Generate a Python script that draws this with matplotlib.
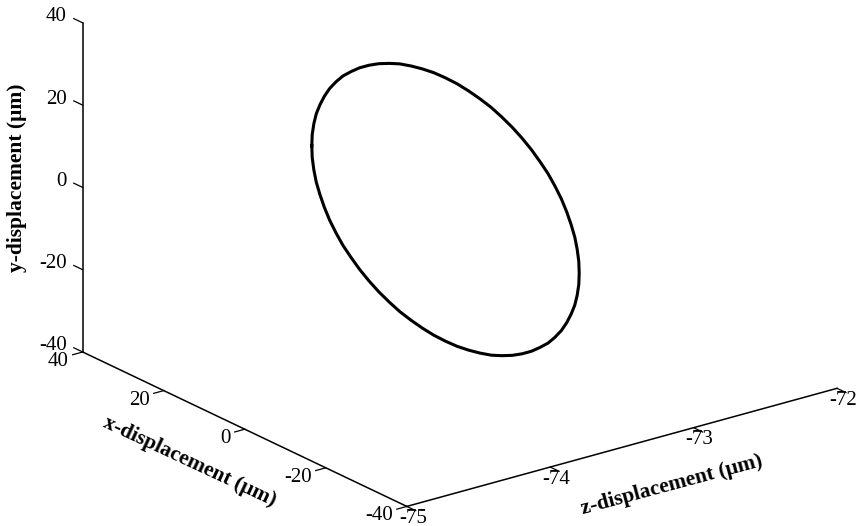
import matplotlib
matplotlib.use("Agg")
import matplotlib.pyplot as plt
from mpl_toolkits.mplot3d import proj3d
import numpy as np

plt.rcParams["font.family"] = ["Liberation Serif", "DejaVu Serif"]

# circular trace (um), lies in the x-y plane
x_um = [33.0, 32.9, 32.5, 31.9, 31.0, 29.9, 28.6, 27.0, 25.3, 23.3, 21.2, 18.9, 16.5,
        13.9, 11.3, 8.5, 5.7, 2.9, 0.0,
        -2.9, -5.7, -8.5, -11.3, -13.9, -16.5, -18.9, -21.2, -23.3, -25.3, -27.0, -28.6,
        -29.9, -31.0, -31.9, -32.5, -32.9, -33.0,
        -32.9, -32.5, -31.9, -31.0, -29.9, -28.6, -27.0, -25.3, -23.3, -21.2, -18.9, -16.5,
        -13.9, -11.3, -8.5, -5.7, -2.9, 0.0,
        2.9, 5.7, 8.5, 11.3, 13.9, 16.5, 18.9, 21.2, 23.3, 25.3, 27.0, 28.6,
        29.9, 31.0, 31.9, 32.5, 32.9, 33.0]
y_um = [0.0, 2.8, 5.6, 8.3, 10.9, 13.5, 16.0, 18.4, 20.6, 22.6, 24.5, 26.2, 27.7,
        29.0, 30.1, 30.9, 31.5, 31.9, 32.0,
        31.9, 31.5, 30.9, 30.1, 29.0, 27.7, 26.2, 24.5, 22.6, 20.6, 18.4, 16.0,
        13.5, 10.9, 8.3, 5.6, 2.8, 0.0,
        -2.8, -5.6, -8.3, -10.9, -13.5, -16.0, -18.4, -20.6, -22.6, -24.5, -26.2, -27.7,
        -29.0, -30.1, -30.9, -31.5, -31.9, -32.0,
        -31.9, -31.5, -30.9, -30.1, -29.0, -27.7, -26.2, -24.5, -22.6, -20.6, -18.4, -16.0,
        -13.5, -10.9, -8.3, -5.6, -2.8, 0.0]
z_um = [-73.6] * len(x_um)

x_ticks = [40, 20, 0, -20, -40]
y_ticks = [-40, -20, 0, 20, 40]
z_ticks = [-75, -74, -73, -72]
x_lim = [-40, 40]
y_lim = [-40, 40]
z_lim = [-75, -72]

W, H = 857, 526
fig = plt.figure(figsize=(W / 100, H / 100), dpi=100)
ax = fig.add_axes([0, 0, 1, 1], projection="3d")
ax.set_proj_type("ortho")
ax.view_init(elev=21.2, azim=-127.2, vertical_axis="y")
ax.set_box_aspect((536, 353, 540))
ax.set_xlim(x_lim)
ax.set_ylim(y_lim)
ax.set_zlim(z_lim)
ax.set_axis_off()

# axis lines (matlab style, no box)
ln = dict(color="black", lw=1.1)
ax.plot(x_lim, [y_lim[0]] * 2, [z_lim[0]] * 2, **ln)
ax.plot([x_lim[1]] * 2, y_lim, [z_lim[0]] * 2, **ln)
ax.plot([x_lim[0]] * 2, [y_lim[0]] * 2, z_lim, **ln)

tk = dict(color="black", lw=0.9)
for v in y_ticks:
    ax.plot([x_lim[1], x_lim[1] + 2.2], [v, v], [z_lim[0]] * 2, **tk)
for v in x_ticks:
    ax.plot([v, v], [y_lim[0]] * 2, [z_lim[0], z_lim[0] - 0.07], **tk)
for v in z_ticks:
    ax.plot([x_lim[0], x_lim[0] - 2.2], [y_lim[0]] * 2, [v, v], **tk)

ax.plot(x_um, y_um, z_um, color="black", lw=2.2, solid_joinstyle="round")


def to_px(x, y, z):
    xp, yp, _ = proj3d.proj_transform(x, y, z, ax.get_proj())
    return np.array(ax.transData.transform((xp, yp)))


# place the box so its corners land where the reference has them
fig.canvas.draw()
pA = to_px(x_lim[1], y_lim[0], z_lim[0])
pC = to_px(x_lim[0], y_lim[0], z_lim[1])
tA = np.array([82.7, H - 352])
tC = np.array([837.0, H - 388])
s = np.linalg.norm(tC - tA) / np.linalg.norm(pC - pA)
bb = ax.bbox
c0 = np.array([(bb.x0 + bb.x1) / 2, (bb.y0 + bb.y1) / 2])
side = bb.width * s
cn = tA - s * (pA - c0)
ax.set_position([(cn[0] - side / 2) / W, (cn[1] - side / 2) / H, side / W, side / H])
fig.canvas.draw()


# tick labels, offset in pixels (dx right, dy down) from the tick base
def tick_label(p, s_, dx, dy, ha):
    fig.text((p[0] + dx) / W, (p[1] - dy) / H, s_, ha=ha, va="center", fontsize=15)


for v in y_ticks:
    tick_label(to_px(x_lim[1], v, z_lim[0]), str(v), -16, -6, "right")
for v in x_ticks:
    tick_label(to_px(v, y_lim[0], z_lim[0]), str(v), -14, 9.5, "right")
for v in z_ticks:
    tick_label(to_px(x_lim[0], y_lim[0], v), str(v), 6, 12, "center")

lab = dict(fontsize=15.5, fontweight="bold", ha="center", va="center", rotation_mode="anchor")
fig.text(17 / W, 1 - 178 / H, "y-displacement (μm)", rotation=90, **lab)
fig.text(190 / W, 1 - 462 / H, "x-displacement (μm)", rotation=-25, **lab)
fig.text(672 / W, 1 - 485 / H, "z-displacement (μm)", rotation=15, **lab)

fig.savefig("out.png", dpi=100)
